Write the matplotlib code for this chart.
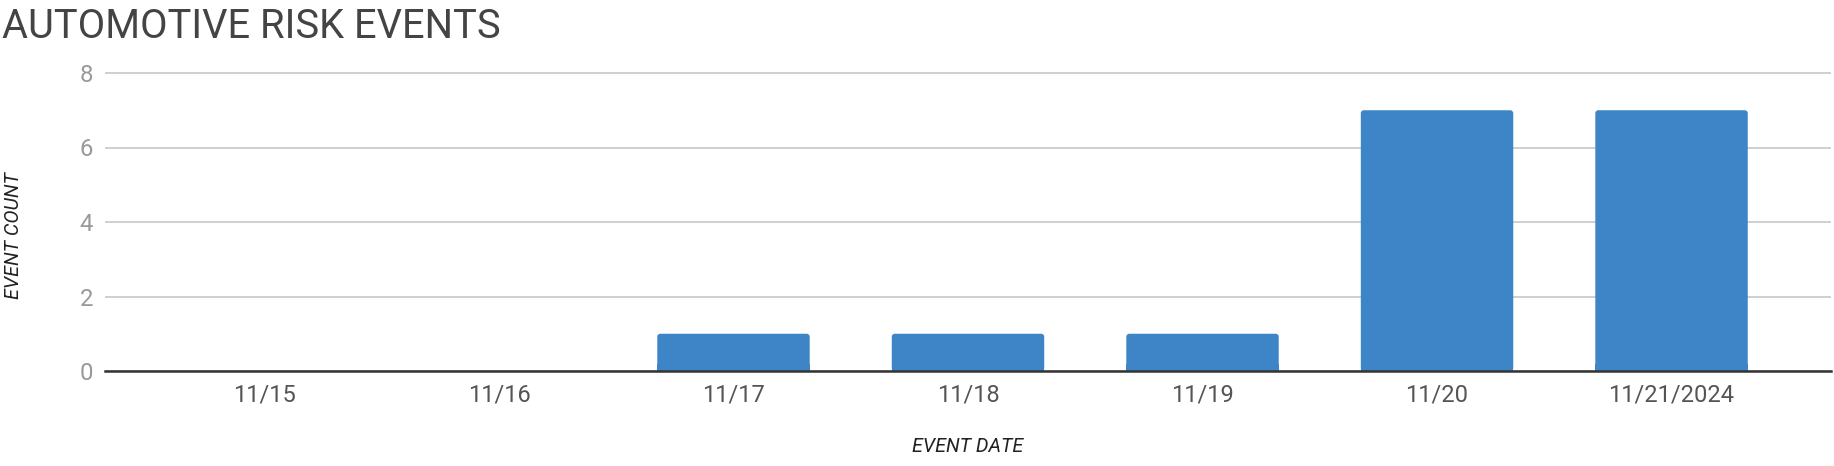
import matplotlib
matplotlib.use("Agg")
import matplotlib.pyplot as plt
from matplotlib.patches import FancyBboxPatch

categories = ["11/15", "11/16", "11/17", "11/18", "11/19", "11/20", "11/21/2024"]
counts = [0, 0, 1, 1, 1, 7, 7]
yticks = [0, 2, 4, 6, 8]
title = "AUTOMOTIVE RISK EVENTS"
xlabel = "EVENT DATE"
ylabel = "EVENT COUNT"

W, H = 1834, 466
fig = plt.figure(figsize=(W / 100, H / 100), dpi=100)
plt.rcParams['font.family'] = ['Roboto', 'DejaVu Sans']

left, right = 105 / W, 1831 / W
ymax = 8.05
y0_px = 371
unit_px = (371 - 73) / 8
top_px = y0_px - ymax * unit_px
ax = fig.add_axes([left, 1 - y0_px / H, right - left, (y0_px - top_px) / H])

x = list(range(len(categories)))
bars = ax.bar(x, counts, width=0.65, color="#3D85C6", zorder=2)
# rounded top corners
xunit_px = (1831 - 105) / 7.36
rx = 3 / xunit_px
ry = 3 / unit_px
for b in bars:
    h = b.get_height()
    if h <= 0:
        continue
    b.set_visible(False)
    p = FancyBboxPatch((b.get_x(), b.get_y()), b.get_width(), h,
                       boxstyle=f"round,pad=0,rounding_size={rx}",
                       mutation_aspect=ry / rx,
                       facecolor="#3D85C6", edgecolor="none", zorder=2)
    ax.add_patch(p)
    # square off bottom corners
    ax.bar(b.get_x() + b.get_width() / 2, min(h, 0.2), width=b.get_width(),
           color="#3D85C6", zorder=2)

ax.set_xlim(-0.68, 6.68)
ax.set_ylim(0, ymax)
ax.set_yticks(yticks)
ax.set_yticklabels([str(v) for v in yticks])
ax.set_xticks(x)
ax.set_xticklabels(categories)

for s in ["top", "right", "left"]:
    ax.spines[s].set_visible(False)
ax.spines["bottom"].set_color("#333333")
ax.spines["bottom"].set_linewidth(1.8)
ax.spines["bottom"].set_zorder(3)

ax.yaxis.grid(True, color="#cccccc", linewidth=1.3, zorder=0)
ax.set_axisbelow(True)
ax.tick_params(axis="y", length=0, pad=8.5, labelsize=17.2, labelcolor="#999999")
ax.tick_params(axis="x", length=0, pad=9, labelsize=17, labelcolor="#555555")

fig.text(968 / W, 1 - 447 / H, xlabel, ha="center", va="center",
         fontsize=14.2, style="italic", color="#222222")
fig.text(14 / W, 1 - 236 / H, ylabel, ha="center", va="center", rotation=90,
         fontsize=14.2, style="italic", color="#222222")
fig.text(2 / W, 1 - 26 / H, title, ha="left", va="center",
         fontsize=28.7, color="#444444")

fig.savefig("out.png", dpi=100)
